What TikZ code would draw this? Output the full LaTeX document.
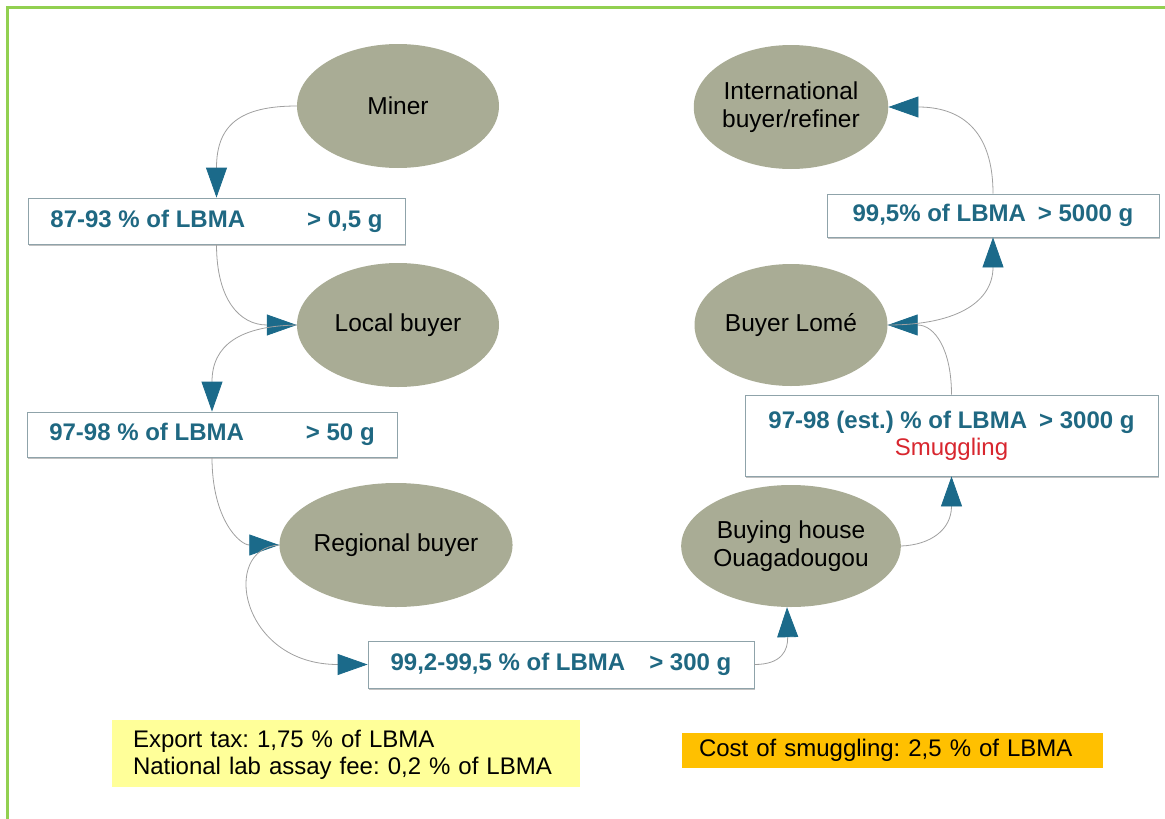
\documentclass[tikz,border=0pt]{standalone}
\usepackage{fontspec}
\setmainfont{Liberation Sans}
\usetikzlibrary{arrows.meta,shapes.geometric,shadows}
\frenchspacing
\definecolor{ellfill}{HTML}{A9AC95}
\definecolor{tealtxt}{HTML}{1F6882}
\definecolor{arrowc}{HTML}{1B6A8A}
\definecolor{boxline}{HTML}{8FA3AA}
\definecolor{smug}{HTML}{D8262E}
\definecolor{frame}{HTML}{92D050}
\definecolor{yel}{HTML}{FFFF99}
\definecolor{orng}{HTML}{FFC000}
\definecolor{connline}{HTML}{A0A0A0}
\tikzset{
  ell/.style={ellipse, fill=ellfill, draw=none, inner sep=0pt, align=center,
    font=\fontsize{24.5pt}{28.5pt}\selectfont, text=black},
  infobox/.style={draw=boxline, fill=white, line width=0.8pt, inner sep=0pt,
    text=tealtxt, align=center, font=\bfseries\fontsize{24pt}{27pt}\selectfont,
    drop shadow={shadow xshift=1pt, shadow yshift=-1.5pt, fill=black!35, opacity=0.7}},
  note/.style={draw=none, inner ysep=0pt, align=left, font=\fontsize{24pt}{27pt}\selectfont, text=black},
  conn/.style={draw=connline, line width=0.8pt,
    -{Triangle[length=30pt, width=21pt, color=arrowc, fill=arrowc]}}
}
\begin{document}
\begin{tikzpicture}[x=1pt, y=-1pt]
\useasboundingbox (0,0) rectangle (1165,819);
\draw[frame, line width=3pt] (7,819) -- (7,7) -- (1165,7);

% ellipses
\node[ell, minimum width=202pt, minimum height=124pt] (miner) at (398,106) {Miner};
\node[ell, minimum width=202pt, minimum height=124pt] (local) at (398,325) {Local buyer};
\node[ell, minimum width=202pt, minimum height=124pt] (regional) at (396,545) {Regional buyer};
\node[ell, minimum width=192pt, minimum height=124pt] (intl) at (791,107) {International\\buyer/refiner};
\node[ell, minimum width=193pt, minimum height=122pt] (lome) at (791,325) {Buyer Lomé};
\node[ell, minimum width=192pt, minimum height=122pt] (house) at (791,546) {Buying house\\Ouagadougou};

% info boxes
\node[infobox, minimum width=377pt, minimum height=46pt] (box1) at (216.5,221) {87-93 \% of LBMA\hspace{62pt}> 0,5 g};
\node[infobox, minimum width=370pt, minimum height=45pt] (box2) at (212,434.5) {97-98 \% of LBMA\hspace{62pt}> 50 g};
\node[infobox, minimum width=386pt, minimum height=47pt] (box3) at (561,664.5) {99,2-99,5 \% of LBMA\hspace{24pt}> 300 g};
\node[infobox, minimum width=332pt, minimum height=43pt] (box4) at (993,215.5) {99,5\% of LBMA\hspace{12pt}> 5000 g};
\node[infobox, minimum width=413pt, minimum height=81pt] (box5) at (951.5,435.5) {97-98 (est.) \% of LBMA\hspace{12pt}> 3000 g\\{\mdseries\color{smug}Smuggling}};

% notes
\node[note, fill=yel, minimum height=67pt, text width=426pt, inner xsep=21pt] (tax) at (346,753.5) {\rule{0pt}{20pt}Export tax: 1,75 \% of LBMA\\National lab assay fee: 0,2 \% of LBMA};
\node[note, fill=orng, minimum height=35pt, text width=387pt, inner xsep=17pt] (cost) at (892.5,750.5) {Cost of smuggling: 2,5 \% of LBMA};

% connectors
\draw[conn] (miner.west) .. controls (240,106) and (216.5,125) .. (box1.north);
\draw[conn] (box1.south) .. controls (216.5,300) and (240,325) .. (local.west);
\draw[conn] (local.west) .. controls (240,326) and (212,345) .. (box2.north);
\draw[conn] (box2.south) .. controls (212,520) and (240,545) .. (regional.west);
\draw[conn] (regional.west) .. controls (220,548) and (240,664.5) .. (box3.west);
\draw[conn] (box3.east) .. controls (782,664.5) and (788,650) .. ([xshift=-4pt]house.south);
\draw[conn] (house.east) .. controls (930,545) and (951.5,530) .. (box5.south);
\draw[conn] (box5.north) .. controls (951.5,350) and (935,325) .. (lome.east);
\draw[conn] (lome.east) .. controls (960,325) and (993,300) .. (box4.south);
\draw[conn] (box4.north) .. controls (993,120) and (950,107) .. (intl.east);
\end{tikzpicture}
\end{document}
